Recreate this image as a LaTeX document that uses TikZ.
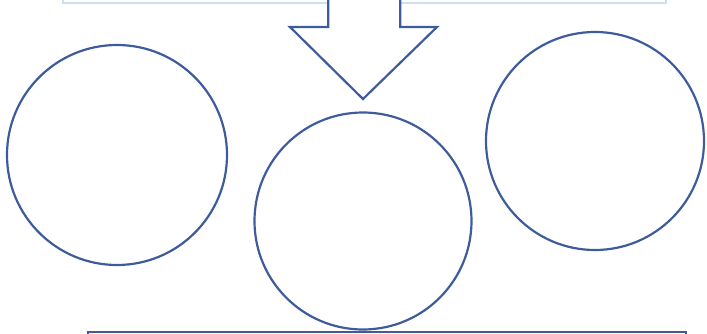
\documentclass[tikz,border=0pt]{standalone}
\usepackage{tikz}
\usetikzlibrary{positioning, calc}
\definecolor{ringblue}{RGB}{62,92,156}
\definecolor{paleblue}{RGB}{204,224,244}

\begin{document}
\begin{tikzpicture}[x=1pt,y=-1pt,
    ring/.style={draw=ringblue, line width=2.2pt, circle, inner sep=0pt},
    panel/.style={draw, line width=2.2pt}]
    \useasboundingbox (0,0) rectangle (707,334);
    \clip (0,0) rectangle (707,334);

    \node[panel, draw=paleblue, line width=1.6pt, minimum width=603pt, minimum height=40pt, anchor=south west] (top) at (62,4) {};
    \node[panel, draw=ringblue, minimum width=598pt, minimum height=40pt, anchor=north west] (bottom) at (87,331) {};

    \node[ring, minimum size=220pt] (left) at (117,155) {};
    \node[ring, minimum size=217pt] (mid) at (363,221) {};
    \node[ring, minimum size=218pt] (right) at (595,141) {};

    % block arrow from the top panel down to the middle ring
    \coordinate (tip) at (363,99);
    \draw[ringblue, line width=2.2pt, fill=white, line join=miter]
      ($(top.south)+(-36,-8)$) |- (290,27) -- (tip) -- (437,27) -| ($(top.south)+(36,-8)$);
\end{tikzpicture}
\end{document}
